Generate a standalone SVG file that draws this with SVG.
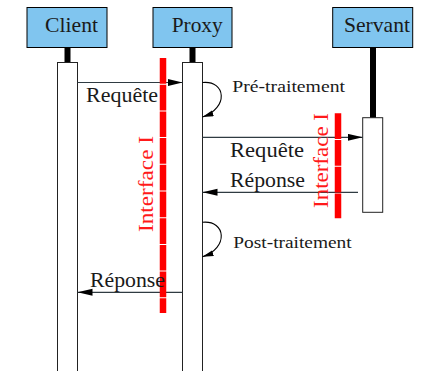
<svg xmlns="http://www.w3.org/2000/svg" width="421" height="371" viewBox="0 0 421 371">
<defs>
<style>
.hdr{fill:#80c5ef;stroke:#000;stroke-width:1}
.act{fill:#fff;stroke:#222;stroke-width:1}
.life{stroke:#000;stroke-width:6}
.t{font-family:"Liberation Serif","Times New Roman",serif;font-size:21px;fill:#1a1a1a}
.s{font-family:"Liberation Serif","Times New Roman",serif;font-size:16px;fill:#1a1a1a}
.red{font-family:"Liberation Serif","Times New Roman",serif;font-size:21px;fill:#ff1a1a}
.msg{stroke:#2f3b42;stroke-width:1.2;fill:none}
.loop{stroke:#000;stroke-width:1.1;fill:none}
.bar{stroke:#ff0000;stroke-width:6.5;stroke-dasharray:25.7 1}
</style>
<marker id="ah" markerUnits="userSpaceOnUse" markerWidth="16" markerHeight="8" refX="15" refY="3.5" orient="auto">
<path d="M0,0 L15,3.5 L0,7 z" fill="#000"/>
</marker>
<marker id="ahs" markerUnits="userSpaceOnUse" markerWidth="12" markerHeight="8" refX="11" refY="3" orient="auto">
<path d="M0,0 L11,3 L0,6 z" fill="#000"/>
</marker>
</defs>
<rect width="421" height="371" fill="#fff"/>
<g id="client">
<line class="life" x1="67.5" y1="47" x2="67.5" y2="63"/>
<rect class="act" x="57.5" y="62.5" width="20" height="320"/>
<rect class="hdr" x="27" y="7.5" width="80" height="40"/>
<text class="t" x="45" y="32.3" textLength="53" lengthAdjust="spacingAndGlyphs">Client</text>
</g>
<g id="proxy">
<line class="life" x1="192.5" y1="47" x2="192.5" y2="63"/>
<rect class="act" x="182.5" y="62.5" width="20" height="320"/>
<rect class="hdr" x="153" y="7.5" width="79" height="40"/>
<text class="t" x="171.7" y="32.3" textLength="51" lengthAdjust="spacingAndGlyphs">Proxy</text>
</g>
<g id="servant">
<line class="life" x1="373" y1="47" x2="373" y2="118"/>
<rect class="act" x="362.7" y="117.7" width="20" height="94.6"/>
<rect class="hdr" x="332.7" y="7.5" width="80" height="40"/>
<text class="t" x="344" y="32.3" textLength="66" lengthAdjust="spacingAndGlyphs">Servant</text>
</g>
<g id="connectors">
<line class="msg" x1="77.5" y1="82.5" x2="182.5" y2="82.5" marker-end="url(#ah)"/>
<path class="loop" d="M202.5,82.5 C226,80 229,108 202.5,117" marker-end="url(#ahs)"/>
<line class="msg" x1="202.5" y1="137.3" x2="362.7" y2="137.3" marker-end="url(#ah)"/>
<line class="msg" x1="358" y1="192.3" x2="202.5" y2="192.3" marker-end="url(#ah)"/>
<path class="loop" d="M202.5,222.3 C226,220 229,248 202.5,256.7" marker-end="url(#ahs)"/>
<line class="msg" x1="182.5" y1="292.3" x2="77.5" y2="292.3" marker-end="url(#ah)"/>
</g>
<g id="interface-left">
<line class="bar" x1="163" y1="58" x2="163" y2="313"/>
<text class="red" transform="translate(152.5,232) rotate(-90)" x="0" y="0" textLength="96" lengthAdjust="spacingAndGlyphs">Interface I</text>
</g>
<g id="interface-right">
<line class="bar" x1="338" y1="113.3" x2="338" y2="218.3"/>
<text class="red" transform="translate(327.5,208) rotate(-90)" x="0" y="0" textLength="95" lengthAdjust="spacingAndGlyphs">Interface I</text>
</g>
<g id="labels">
<text class="t" x="86" y="102.3" textLength="72" lengthAdjust="spacingAndGlyphs">Requête</text>
<text class="s" x="232.3" y="92.3" textLength="112.7" lengthAdjust="spacingAndGlyphs">Pré-traitement</text>
<text class="t" x="230" y="157.3" textLength="74" lengthAdjust="spacingAndGlyphs">Requête</text>
<text class="t" x="230" y="187.3" textLength="75" lengthAdjust="spacingAndGlyphs">Réponse</text>
<text class="s" x="233.3" y="247.7" textLength="118.4" lengthAdjust="spacingAndGlyphs">Post-traitement</text>
<text class="t" x="90" y="287.3" textLength="75" lengthAdjust="spacingAndGlyphs">Réponse</text>
</g>
</svg>
